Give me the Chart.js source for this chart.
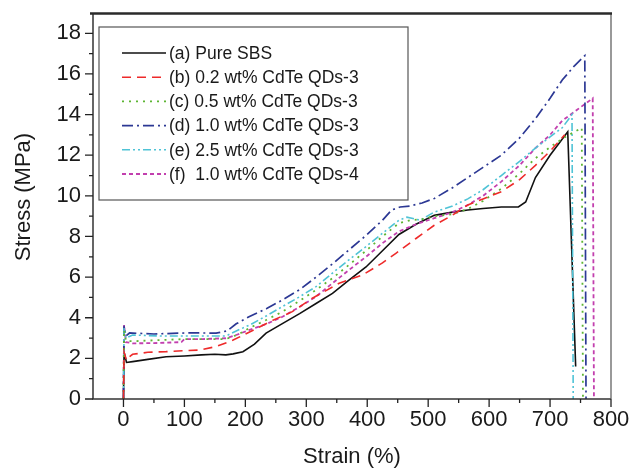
<!DOCTYPE html>
<html>
<head>
<meta charset="utf-8">
<script src="https://cdn.jsdelivr.net/npm/chart.js@4/dist/chart.umd.min.js"></script>
<style>
html,body{margin:0;padding:0;background:#fff;}
#wrap{width:631px;height:470px;}
</style>
</head>
<body>
<div id="wrap"><canvas id="c" width="631" height="470"></canvas></div>
<script>
// ---- data ----
const xTicks = [0,100,200,300,400,500,600,700,800];
const yTicks = [0,2,4,6,8,10,12,14,16,18];
const seriesLabels = ["(a) Pure SBS","(b) 0.2 wt% CdTe QDs-3","(c) 0.5 wt% CdTe QDs-3","(d) 1.0 wt% CdTe QDs-3","(e) 2.5 wt% CdTe QDs-3","(f)  1.0 wt% CdTe QDs-4"];

const strainA = [0,1,5,15,40,70,100,128,150,168,180,196,215,234,260,289,316,343,370,398,425,452,480,510,540,565,590,620,648,660,676,700,729,742];
const stressA = [0,2.3,1.8,1.84,1.95,2.08,2.12,2.17,2.2,2.17,2.22,2.33,2.7,3.24,3.7,4.2,4.7,5.2,5.85,6.5,7.3,8.1,8.6,9.04,9.2,9.3,9.38,9.45,9.45,9.7,10.9,12.0,13.15,1.6];

const strainB = [0,1,5,10,15,40,70,100,125,152,180,207,240,277,310,354,392,425,447,480,510,540,565,590,620,650,676,700,724];
const stressB = [0,2.3,1.9,2.08,2.2,2.3,2.33,2.38,2.41,2.58,2.9,3.3,3.8,4.3,4.96,5.7,6.1,6.7,7.17,7.9,8.55,9.05,9.55,9.85,10.2,10.8,11.5,12.2,13.0];

const strainC = [0,1,4,20,60,100,140,168,190,207,235,261,290,316,343,370,398,425,452,470,490,510,540,565,590,620,650,676,700,725,752,754];
const stressC = [0,3.4,2.85,2.85,2.9,2.95,2.95,2.95,3.2,3.5,3.9,4.3,4.85,5.37,5.95,6.6,7.3,8.0,8.65,8.8,8.85,9.0,9.1,9.35,9.75,10.35,11.1,11.85,12.4,12.9,13.35,0];

const strainD = [0,1,4,10,50,100,130,152,170,185,206,235,261,290,316,343,370,398,425,440,454,470,490,510,540,565,590,620,650,676,700,720,740,757,759];
const stressD = [0,3.6,3.1,3.25,3.2,3.25,3.25,3.24,3.35,3.7,4.05,4.45,4.88,5.4,6.0,6.65,7.34,8.05,8.8,9.3,9.45,9.5,9.65,9.87,10.4,10.9,11.4,12.0,12.85,13.8,14.8,15.7,16.4,16.9,0];

const strainE = [0,1,4,15,60,100,140,168,185,207,235,261,290,316,343,370,398,425,452,465,487,510,540,565,590,620,650,676,700,720,736,738];
const stressE = [0,3.5,3.0,3.15,3.1,3.1,3.1,3.1,3.35,3.64,4.1,4.55,5.05,5.53,6.2,6.85,7.5,8.16,8.8,8.95,8.8,9.2,9.5,9.85,10.3,11.0,11.7,12.35,12.9,13.35,14.0,0];

const strainF = [0,1,4,15,50,95,100,130,168,185,207,235,261,290,316,343,370,398,425,452,480,510,540,565,590,620,650,676,700,720,745,770,772];
const stressF = [0,3.65,2.8,2.74,2.75,2.8,2.95,2.95,2.99,3.15,3.4,3.7,4.05,4.55,5.04,5.7,6.35,7.0,7.67,8.25,8.6,8.9,9.2,9.55,10.0,10.7,11.5,12.35,13.0,13.7,14.25,14.8,0];

// ---- styling ----
const colors = ["#111111","#ee2a2a","#5db533","#2c3894","#4fc3d6","#c23fae"];
const dashes = [[],[9,6],[2,5],[11,4,2,4],[8,3,2,3,2,3],[4,3]];
const widths = [1.6,1.6,1.8,1.7,1.6,1.8];

function pts(xs, ys){ return xs.map((x,i)=>({x:x,y:ys[i]})); }
const allX = [strainA,strainB,strainC,strainD,strainE,strainF];
const allY = [stressA,stressB,stressC,stressD,stressE,stressF];

const datasets = seriesLabels.map((lab,i)=>({
  label: lab,
  data: pts(allX[i], allY[i]),
  borderColor: colors[i],
  backgroundColor: colors[i],
  borderWidth: widths[i],
  borderDash: dashes[i],
  pointRadius: 0,
  showLine: true,
  tension: 0,
  fill: false
}));
const ordered = [datasets[1],datasets[2],datasets[4],datasets[3],datasets[5],datasets[0]];

const FONT = "'Liberation Sans', Arial, sans-serif";

const framePlugin = {
  id: 'frame',
  afterDraw(chart){
    const ctx = chart.ctx, a = chart.chartArea;
    const xs = chart.scales.x, ys = chart.scales.y;
    ctx.save();
    ctx.strokeStyle = '#333';
    ctx.lineWidth = 1.5;
    ctx.beginPath();
    ctx.moveTo(a.left, a.top); ctx.lineTo(a.left, a.bottom); ctx.lineTo(a.right, a.bottom);
    ctx.stroke();
    ctx.strokeStyle = '#555';
    ctx.lineWidth = 1.2;
    ctx.beginPath(); ctx.moveTo(a.right, a.top); ctx.lineTo(a.right, a.bottom); ctx.stroke();
    ctx.strokeStyle = '#2a2a2a';
    ctx.lineWidth = 2.6;
    ctx.beginPath(); ctx.moveTo(a.left-3, a.top+0.5); ctx.lineTo(a.right+1, a.top+0.5); ctx.stroke();
    ctx.strokeStyle = '#222';
    ctx.lineWidth = 1.3;
    ctx.beginPath();
    for (let v = 0; v <= 800; v += 50){
      const px = xs.getPixelForValue(v);
      const len = (v % 100 === 0) ? 8 : 4;
      ctx.moveTo(px, a.bottom); ctx.lineTo(px, a.bottom + len);
    }
    for (let v = 0; v <= 18; v += 1){
      const py = ys.getPixelForValue(v);
      const len = (v % 2 === 0) ? 8 : 4;
      ctx.moveTo(a.left, py); ctx.lineTo(a.left - len, py);
    }
    ctx.stroke();
    ctx.fillStyle = '#1a1a1a';
    ctx.font = "22px " + FONT;
    ctx.textAlign = 'center';
    ctx.textBaseline = 'middle';
    ctx.translate(24, 197);
    ctx.rotate(-Math.PI/2);
    ctx.fillText('Stress (MPa)', 0, 0);
    ctx.restore();

    ctx.save();
    const bx = 99, by = 27, bw = 309, bh = 173;
    ctx.fillStyle = '#fff';
    ctx.fillRect(bx, by, bw, bh);
    ctx.strokeStyle = '#555';
    ctx.lineWidth = 1.2;
    ctx.strokeRect(bx, by, bw, bh);
    ctx.font = "17.5px " + FONT;
    ctx.textAlign = 'left';
    ctx.textBaseline = 'middle';
    datasets.forEach((ds, i) => {
      const ry = 53 + i * 24.2;
      ctx.strokeStyle = ds.borderColor;
      ctx.lineWidth = ds.borderWidth;
      ctx.setLineDash(ds.borderDash);
      ctx.beginPath(); ctx.moveTo(122, ry); ctx.lineTo(166, ry); ctx.stroke();
      ctx.setLineDash([]);
      ctx.fillStyle = '#1a1a1a';
      ctx.fillText(ds.label, 169, ry + 1);
    });
    ctx.restore();
  }
};

new Chart(document.getElementById('c'), {
  type: 'scatter',
  data: { datasets: ordered },
  options: {
    responsive: false,
    animation: false,
    events: [],
    layout: { padding: { top: 13, right: 20, left: 0, bottom: 0 } },
    plugins: { legend: { display: false }, tooltip: { enabled: false } },
    scales: {
      x: {
        type: 'linear', min: -50, max: 800,
        afterBuildTicks: s => { s.ticks = xTicks.map(v => ({value: v})); },
        afterFit: s => { s.height = 71; s.paddingLeft = 0; s.paddingRight = 0; },
        grid: { display: false, drawTicks: false },
        border: { display: false },
        ticks: { color: '#1a1a1a', font: { family: FONT, size: 22 }, padding: 8, maxRotation: 0, autoSkip: false },
        title: { display: true, text: 'Strain (%)', color: '#1a1a1a', font: { family: FONT, size: 22 }, padding: { top: 0, bottom: 0 } }
      },
      y: {
        type: 'linear', min: 0, max: 19,
        afterBuildTicks: s => { s.ticks = yTicks.map(v => ({value: v})); },
        afterFit: s => { s.width = 93; s.paddingTop = 0; s.paddingBottom = 0; },
        grid: { display: false, drawTicks: false },
        border: { display: false },
        ticks: { color: '#1a1a1a', font: { family: FONT, size: 22 }, padding: 12, autoSkip: false }
      }
    }
  },
  plugins: [framePlugin]
});
</script>
</body>
</html>
